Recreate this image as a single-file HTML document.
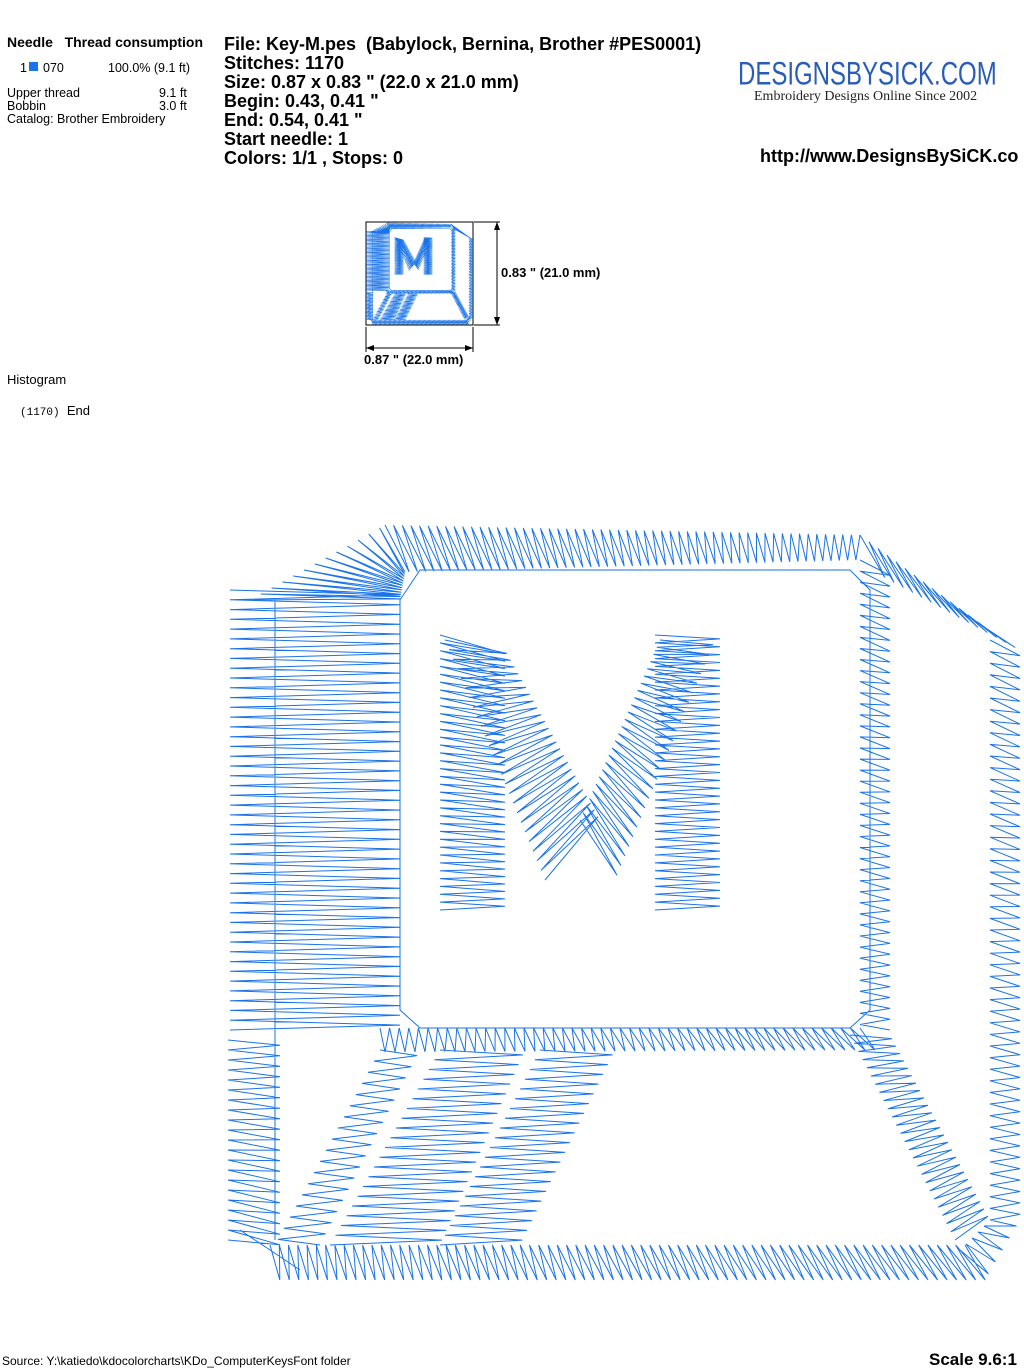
<!DOCTYPE html>
<html><head><meta charset="utf-8"><style>
body{margin:0;width:1024px;height:1370px;background:#fff;position:relative;overflow:hidden;font-family:"Liberation Sans",Arial,sans-serif;color:#000}
.a{position:absolute;white-space:nowrap}
.h{font-weight:bold;font-size:18px;left:224px}
.s{font-size:12.5px}
</style></head><body>
<div class="a" style="left:7px;top:34px;font-size:14px;font-weight:bold">Needle&nbsp;&nbsp; Thread consumption</div>
<div class="a s" style="left:20px;top:61px">1</div>
<div class="a" style="left:29px;top:62px;width:9px;height:9px;background:#1a73e8"></div>
<div class="a s" style="left:43px;top:61px">070</div>
<div class="a s" style="left:108px;top:61px">100.0% (9.1 ft)</div>
<div class="a s" style="left:7px;top:87px;line-height:13px">Upper thread<br>Bobbin<br>Catalog: Brother Embroidery</div>
<div class="a s" style="left:159px;top:87px;line-height:13px">9.1 ft<br>3.0 ft</div>
<div class="a h" style="top:35px;line-height:19px">File: Key-M.pes&nbsp; (Babylock, Bernina, Brother #PES0001)<br>Stitches: 1170<br>Size: 0.87 x 0.83 " (22.0 x 21.0 mm)<br>Begin: 0.43, 0.41 "<br>End: 0.54, 0.41 "<br>Start needle: 1<br>Colors: 1/1 , Stops: 0</div>
<div class="a" style="left:738px;top:56px;font-size:24px;color:#2a5db8;transform:scaleY(1.35);transform-origin:0 0">DESIGNSBYSICK.COM</div>
<div class="a" style="left:754px;top:89px;font-size:14px;font-family:'Liberation Serif',serif;color:#222">Embroidery Designs Online Since 2002</div>
<div class="a" style="left:760px;top:146px;font-size:18px;font-weight:bold">http://www.DesignsBySiCK.co</div>
<div class="a" style="left:501px;top:265px;font-size:13px;font-weight:bold">0.83 " (21.0 mm)</div>
<div class="a" style="left:364px;top:352px;font-size:13px;font-weight:bold">0.87 " (22.0 mm)</div>
<div class="a" style="left:7px;top:372px;font-size:13px">Histogram</div>
<div class="a" style="left:20px;top:403px;font-size:13px"><span style="font-family:'Liberation Mono',monospace;font-size:11px">(1170)</span>&nbsp; End</div>
<div class="a" style="left:2px;top:1354px;font-size:12px">Source: Y:\katiedo\kdocolorcharts\KDo_ComputerKeysFont folder</div>
<div class="a" style="left:929px;top:1350px;font-size:17px;font-weight:bold">Scale 9.6:1</div>
<svg class="a" style="left:0;top:0" width="1024" height="1370">
<rect x="366" y="222" width="107" height="103" fill="none" stroke="#000" stroke-width="1"/>
<g stroke="#000" stroke-width="1"><line x1="497" y1="222" x2="497" y2="325"/><line x1="474" y1="222" x2="500" y2="222"/><line x1="474" y1="325" x2="500" y2="325"/>
<line x1="366" y1="348" x2="473" y2="348"/><line x1="366" y1="327" x2="366" y2="352"/><line x1="473" y1="327" x2="473" y2="352"/></g>
<polygon points="497,222 494,230 500,230" /><polygon points="497,325 494,317 500,317"/>
<polygon points="366,348 374,345 374,351"/><polygon points="473,348 465,345 465,351"/>
<g id="big" fill="none" stroke="#1a73e8" stroke-width="1"></g>
<g id="small" fill="none" stroke="#1a73e8" stroke-width="4" transform="translate(366,222) scale(0.135) translate(-228,-520)"></g>
</svg>
<script>
var bands=[
[[230,590],[230,1030],[400,590],[400,1030],90],
[[250,600],[385,525],[400,600],[405,572],25],
[[385,525],[860,535],[405,572],[860,560],110],
[[860,560],[860,1030],[890,570],[890,1030],85],
[[860,535],[995,635],[880,575],[1020,650],30],
[[990,640],[990,1220],[1020,650],[1020,1220],100],
[[990,1220],[960,1250],[1020,1220],[985,1280],10],
[[270,1245],[965,1245],[275,1280],[990,1280],150],
[[380,1028],[860,1028],[380,1052],[880,1050],100],
[[228,1040],[228,1240],[280,1040],[280,1250],40],
[[380,1050],[275,1245],[420,1050],[320,1245],35],
[[440,1050],[330,1245],[525,1050],[440,1245],40],
[[540,1050],[440,1245],[615,1050],[520,1245],40],
[[850,1035],[955,1240],[890,1035],[990,1220],50],
[[440,635],[440,910],[505,650],[505,910],70],
[[655,635],[655,910],[720,635],[720,910],70],
[[445,640],[545,880],[505,650],[600,820],50],
[[660,640],[580,820],[715,640],[615,880],50]];
var d="";
bands.forEach(function(b){var A=b[0],B=b[1],C=b[2],D=b[3],n=b[4];
for(var i=0;i<=n;i++){var t=i/n;var p=(i%2)?[C[0]+(D[0]-C[0])*t,C[1]+(D[1]-C[1])*t]:[A[0]+(B[0]-A[0])*t,A[1]+(B[1]-A[1])*t];
d+=(i?"L":"M")+p[0].toFixed(1)+","+p[1].toFixed(1);}});
d+="M400,600L400,1010L420,1028L850,1028L870,1010L870,590L850,570L420,570Z M275,600L275,1240 M240,1230L300,1270";
var ns="http://www.w3.org/2000/svg";
["big","small"].forEach(function(id){var p=document.createElementNS(ns,"path");p.setAttribute("d",d);document.getElementById(id).appendChild(p);});
</script>
</body></html>
